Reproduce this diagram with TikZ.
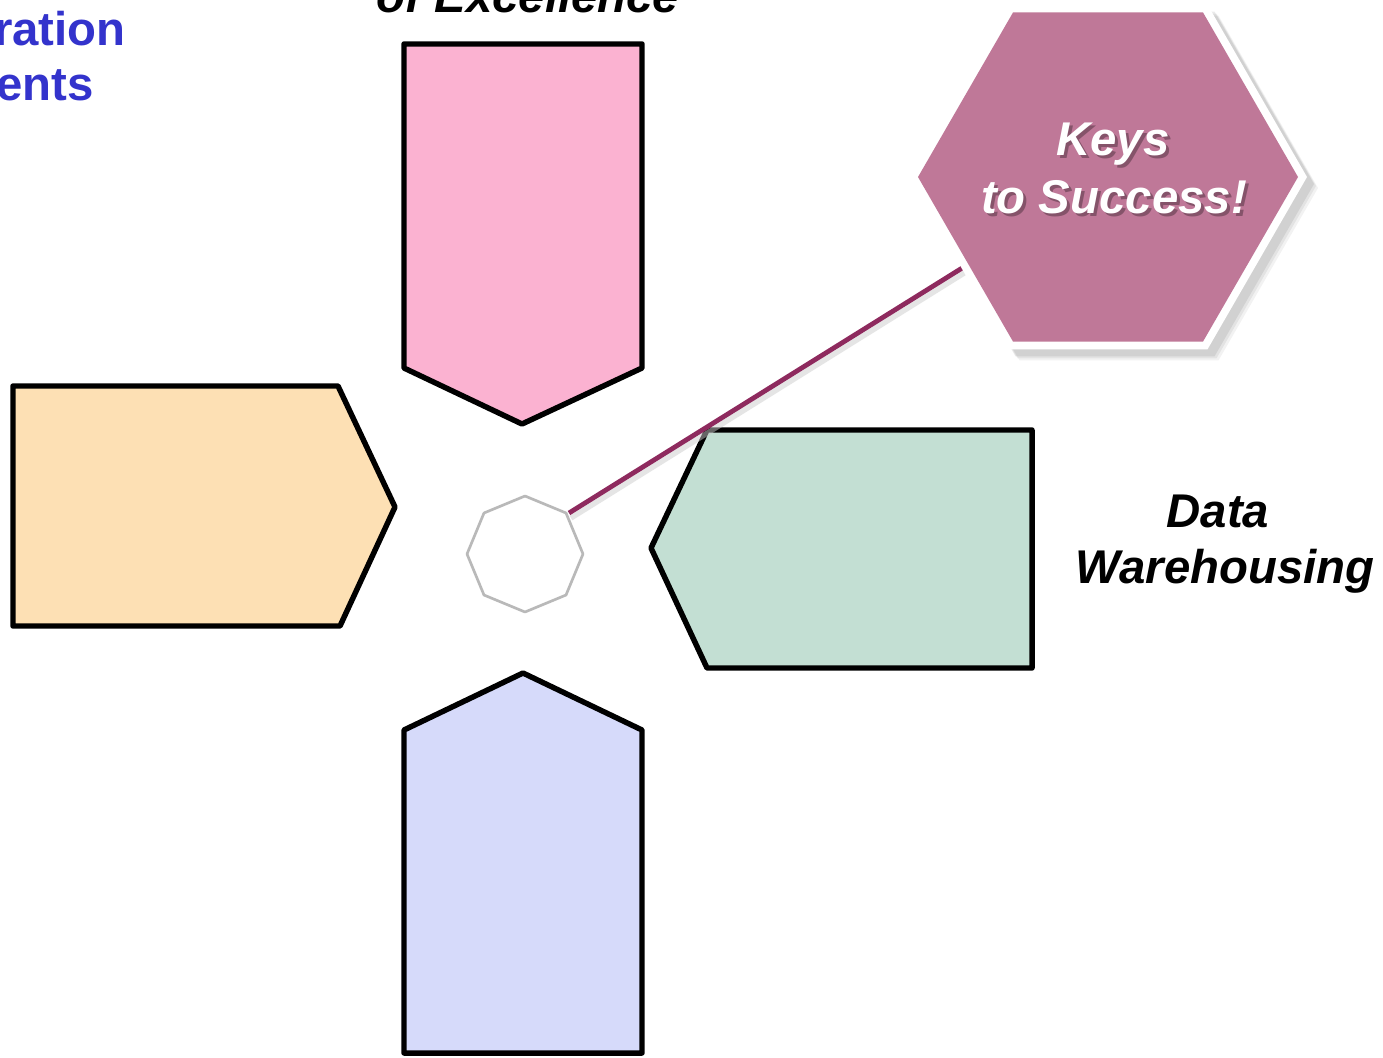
\documentclass[tikz,border=0pt]{standalone}
\usepackage{fontspec}
\setmainfont{Liberation Sans}
\usetikzlibrary{calc}
\definecolor{pinkc}{RGB}{251,178,209}
\definecolor{orangec}{RGB}{253,224,180}
\definecolor{greenc}{RGB}{195,223,211}
\definecolor{bluec}{RGB}{214,218,250}
\definecolor{hexc}{RGB}{191,120,152}
\definecolor{linec}{RGB}{142,42,94}
\definecolor{textblue}{RGB}{51,51,204}
\begin{document}
\begin{tikzpicture}[x=0.75pt,y=-0.75pt,
  arrowbox/.style={draw=black,line width=4.1pt,line join=round},
  lbl/.style={font=\fontsize{35.5}{42}\selectfont\bfseries\itshape,anchor=base,inner sep=0pt},
  bluelbl/.style={font=\fontsize{35.5}{42}\selectfont\bfseries,text=textblue,anchor=base east,inner sep=0pt},
  keyslbl/.style={lbl,text=white},
  keysshadow/.style={lbl,text=black,opacity=0.3},
]
\path[use as bounding box] (0,0) rectangle (1383,1057);
\clip (0,0) rectangle (1383,1057);
\fill[white] (0,0) rectangle (1383,1057);

% four arrow boxes
\draw[arrowbox,fill=pinkc] (404,44) -- (642,44) -- (642,368) -- (522,424) -- (404,368) -- cycle;
\draw[arrowbox,fill=orangec] (13,386) -- (338,386) -- (395,507) -- (340,626) -- (13,626) -- cycle;
\draw[arrowbox,fill=greenc] (707,430) -- (1032,430) -- (1032,668) -- (707,668) -- (651,548) -- cycle;
\draw[arrowbox,fill=bluec] (404,730) -- (523,673) -- (642,730) -- (642,1053) -- (404,1053) -- cycle;

% small octagon
\coordinate (octc) at (525,554);
\draw[gray!55,line width=2pt,fill=white,line join=round]
  ($(octc)+(90:58)$) -- ($(octc)+(135:58)$) -- ($(octc)+(180:58)$) -- ($(octc)+(225:58)$)
  -- ($(octc)+(270:58)$) -- ($(octc)+(315:58)$) -- ($(octc)+(0:58)$) -- ($(octc)+(45:58)$) -- cycle;

% connector
\coordinate (oct) at (569,513);
\coordinate (hexp) at (975,260);
\draw[black!20,line width=4pt,opacity=0.5] ([shift={(2,5)}]oct) -- ([shift={(2,5)}]hexp);
\draw[linec,line width=3.6pt] (oct) -- (hexp);

% hexagon
\coordinate (hexc) at (1108,177);
\foreach \d/\o in {11/0.05,9/0.06,7/0.08} {
  \fill[black,opacity=\o] ($(hexc)+(\d,\d)+(180:199)$) -- ++(60:199) -- ++(0:199) -- ++(-60:199) -- ++(-120:199) -- ++(180:199) -- cycle;
}
\fill[white] ($(hexc)+(180:199)$) -- ++(60:199) -- ++(0:199) -- ++(-60:199) -- ++(-120:199) -- ++(180:199) -- cycle;
\fill[hexc] ($(hexc)+(180:190)$) -- ++(60:190) -- ++(0:190) -- ++(-60:190) -- ++(-120:190) -- ++(180:190) -- cycle;

\node[keysshadow] (keyss) at (1116,158) {Keys};
\node[keysshadow] (tosucs) at (1117,216) {to Success!};
\node[keyslbl] (keys) at (1113,155) {Keys};
\node[keyslbl] (tosuc) at (1114,213) {to Success!};

% labels
\node[lbl] (data) at (1218,527) {Data};
\node[lbl] (wh) at (1225,583) {Warehousing};
\node[lbl] (exc) at (528,12) {of Excellence};
\node[bluelbl] (ration) at (126,45) {ration};
\node[bluelbl] (ents) at (94,100) {ents};
\end{tikzpicture}
\end{document}
